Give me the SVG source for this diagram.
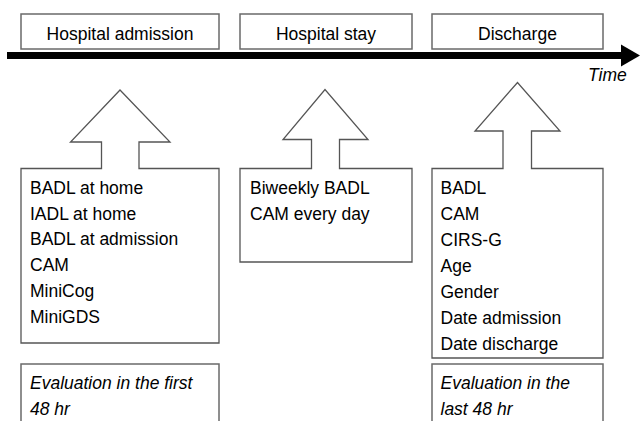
<svg xmlns="http://www.w3.org/2000/svg" width="640" height="421" viewBox="0 0 640 421">
<style>
.box{fill:#fff;stroke:#6a6a6a;stroke-width:1.5}
.call{fill:#fff;stroke:#555;stroke-width:1.3;stroke-linejoin:miter}
text{font-family:"Liberation Sans",Arial,sans-serif;font-size:17.5px;fill:#000}
.c{text-anchor:middle}
.i{font-style:italic}
</style>
<rect width="640" height="421" fill="#fff"/>
<g id="timeline">
<rect x="7" y="52" width="616" height="7" fill="#000"/>
<polygon points="621,44.5 640,55.5 621,66.5" fill="#000"/>
<text class="i" x="588" y="80.5" font-size="16.5">Time</text>
</g>
<g id="admission">
<rect class="box" x="21" y="14" width="198" height="35"/>
<text class="c" x="120" y="39.5">Hospital admission</text>
</g>
<g id="stay">
<rect class="box" x="240" y="14" width="172" height="35"/>
<text class="c" x="326" y="39.5">Hospital stay</text>
</g>
<g id="discharge">
<rect class="box" x="432" y="14" width="171" height="35"/>
<text class="c" x="517.5" y="39.5">Discharge</text>
</g>
<g id="admission-measures">
<path class="call" d="M21,168.5 H101.5 V142 H70.5 L120,90 L170,142 H139 V168.5 H219 V343 H21 Z"/>
<text x="30" y="194">BADL at home</text>
<text x="30" y="219.5">IADL at home</text>
<text x="30" y="245">BADL at admission</text>
<text x="30" y="271">CAM</text>
<text x="30" y="297">MiniCog</text>
<text x="30" y="322.5">MiniGDS</text>
</g>
<g id="stay-measures">
<path class="call" d="M240,168.5 H311.5 V139.5 H283 L325,89.5 L368,139.5 H339.5 V168.5 H412 V262 H240 Z"/>
<text x="250" y="194">Biweekly BADL</text>
<text x="250" y="219.5">CAM every day</text>
</g>
<g id="discharge-measures">
<path class="call" d="M432,168.5 H503 V131 H475 L517.5,82.5 L560,131 H531.5 V168.5 H603 V358 H432 Z"/>
<text x="440.5" y="194">BADL</text>
<text x="440.5" y="220">CAM</text>
<text x="440.5" y="246">CIRS-G</text>
<text x="440.5" y="272">Age</text>
<text x="440.5" y="298">Gender</text>
<text x="440.5" y="324">Date admission</text>
<text x="440.5" y="350">Date discharge</text>
</g>
<g id="first-48">
<rect class="box" x="21" y="364" width="198" height="70"/>
<text class="i" x="30" y="389">Evaluation in the first</text>
<text class="i" x="30" y="415">48 hr</text>
</g>
<g id="last-48">
<rect class="box" x="432" y="364" width="171" height="70"/>
<text class="i" x="440.5" y="389">Evaluation in the</text>
<text class="i" x="440.5" y="415">last 48 hr</text>
</g>
<g id="connectors"/>
</svg>
